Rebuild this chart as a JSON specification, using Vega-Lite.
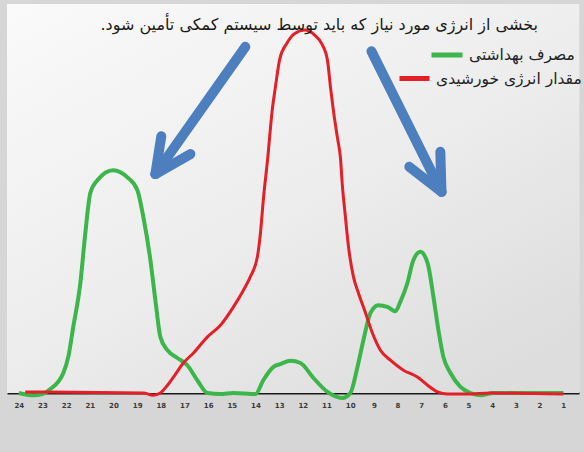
{
  "$schema": "https://vega.github.io/schema/vega-lite/v6.json",
  "width": 572,
  "height": 389,
  "autosize": {"type": "none"},
  "padding": {"left": 7, "top": 4, "right": 5, "bottom": 59},
  "background": "#d6d6d6",
  "title": {
    "text": "بخشی از انرژی مورد نیاز که باید توسط سیستم کمکی تأمین شود.‏",
    "orient": "top",
    "anchor": "end",
    "frame": "group",
    "offset": 0,
    "baseline": "alphabetic",
    "dx": -41,
    "dy": 42,
    "font": "DejaVu Sans",
    "fontSize": 16,
    "fontWeight": "normal",
    "color": "#1a1a1a"
  },
  "config": {
    "axisX": {"title": null, "ticks": false, "grid": false, "labelOverlap": false, "labelBound": false, "labelFlush": false, "domainColor": "#1a1a1a", "domainWidth": 2, "labelFont": "DejaVu Sans", "labelFontSize": 7, "labelFontWeight": "bold", "labelColor": "#3a3a3a", "labelPadding": 8},
    "axisY": {"title": null, "labels": false, "ticks": false, "domain": false, "grid": true, "gridColor": "#d2d2d2", "gridWidth": 1.5}
  },
  "datasets": {
    "curves": [
      {"series": "مصرف بهداشتی", "hour": 24.0, "value": 0},
      {"series": "مصرف بهداشتی", "hour": 23.4, "value": -0.04},
      {"series": "مصرف بهداشتی", "hour": 23.0, "value": -0.02},
      {"series": "مصرف بهداشتی", "hour": 22.67, "value": 0.07},
      {"series": "مصرف بهداشتی", "hour": 22.12, "value": 0.36},
      {"series": "مصرف بهداشتی", "hour": 21.91, "value": 0.65},
      {"series": "مصرف بهداشتی", "hour": 21.7, "value": 1.19},
      {"series": "مصرف بهداشتی", "hour": 21.4, "value": 1.98},
      {"series": "مصرف بهداشتی", "hour": 21.19, "value": 2.88},
      {"series": "مصرف بهداشتی", "hour": 20.98, "value": 3.6},
      {"series": "مصرف بهداشتی", "hour": 20.68, "value": 3.83},
      {"series": "مصرف بهداشتی", "hour": 20.01, "value": 4.01},
      {"series": "مصرف بهداشتی", "hour": 19.41, "value": 3.88},
      {"series": "مصرف بهداشتی", "hour": 18.99, "value": 3.65},
      {"series": "مصرف بهداشتی", "hour": 18.74, "value": 3.17},
      {"series": "مصرف بهداشتی", "hour": 18.44, "value": 2.39},
      {"series": "مصرف بهداشتی", "hour": 18.23, "value": 1.67},
      {"series": "مصرف بهداشتی", "hour": 18.02, "value": 1.01},
      {"series": "مصرف بهداشتی", "hour": 17.72, "value": 0.77},
      {"series": "مصرف بهداشتی", "hour": 17.3, "value": 0.63},
      {"series": "مصرف بهداشتی", "hour": 16.88, "value": 0.5},
      {"series": "مصرف بهداشتی", "hour": 16.46, "value": 0.23},
      {"series": "مصرف بهداشتی", "hour": 16.03, "value": 0},
      {"series": "مصرف بهداشتی", "hour": 15.48, "value": -0.02},
      {"series": "مصرف بهداشتی", "hour": 14.93, "value": 0},
      {"series": "مصرف بهداشتی", "hour": 14.0, "value": -0.02},
      {"series": "مصرف بهداشتی", "hour": 13.67, "value": 0.23},
      {"series": "مصرف بهداشتی", "hour": 13.24, "value": 0.47},
      {"series": "مصرف بهداشتی", "hour": 12.95, "value": 0.52},
      {"series": "مصرف بهداشتی", "hour": 12.52, "value": 0.58},
      {"series": "مصرف بهداشتی", "hour": 12.1, "value": 0.54},
      {"series": "مصرف بهداشتی", "hour": 11.55, "value": 0.27},
      {"series": "مصرف بهداشتی", "hour": 10.96, "value": 0.02},
      {"series": "مصرف بهداشتی", "hour": 10.33, "value": -0.09},
      {"series": "مصرف بهداشتی", "hour": 9.99, "value": 0},
      {"series": "مصرف بهداشتی", "hour": 9.69, "value": 0.47},
      {"series": "مصرف بهداشتی", "hour": 9.44, "value": 0.95},
      {"series": "مصرف بهداشتی", "hour": 9.14, "value": 1.44},
      {"series": "مصرف بهداشتی", "hour": 8.81, "value": 1.58},
      {"series": "مصرف بهداشتی", "hour": 8.43, "value": 1.55},
      {"series": "مصرف بهداشتی", "hour": 8.09, "value": 1.47},
      {"series": "مصرف بهداشتی", "hour": 7.88, "value": 1.64},
      {"series": "مصرف بهداشتی", "hour": 7.58, "value": 1.98},
      {"series": "مصرف بهداشتی", "hour": 7.33, "value": 2.39},
      {"series": "مصرف بهداشتی", "hour": 7.03, "value": 2.54},
      {"series": "مصرف بهداشتی", "hour": 6.73, "value": 2.34},
      {"series": "مصرف بهداشتی", "hour": 6.48, "value": 1.73},
      {"series": "مصرف بهداشتی", "hour": 6.27, "value": 1.13},
      {"series": "مصرف بهداشتی", "hour": 6.06, "value": 0.65},
      {"series": "مصرف بهداشتی", "hour": 5.76, "value": 0.36},
      {"series": "مصرف بهداشتی", "hour": 5.34, "value": 0.11},
      {"series": "مصرف بهداشتی", "hour": 4.92, "value": 0},
      {"series": "مصرف بهداشتی", "hour": 4.49, "value": -0.04},
      {"series": "مصرف بهداشتی", "hour": 3.94, "value": 0},
      {"series": "مصرف بهداشتی", "hour": 0.99, "value": 0},
      {"series": "مقدار انرژی خورشیدی", "hour": 23.73, "value": 0.02},
      {"series": "مقدار انرژی خورشیدی", "hour": 18.74, "value": 0},
      {"series": "مقدار انرژی خورشیدی", "hour": 18.32, "value": -0.04},
      {"series": "مقدار انرژی خورشیدی", "hour": 18.02, "value": 0},
      {"series": "مقدار انرژی خورشیدی", "hour": 17.72, "value": 0.14},
      {"series": "مقدار انرژی خورشیدی", "hour": 17.46, "value": 0.29},
      {"series": "مقدار انرژی خورشیدی", "hour": 17.05, "value": 0.54},
      {"series": "مقدار انرژی خورشیدی", "hour": 16.62, "value": 0.72},
      {"series": "مقدار انرژی خورشیدی", "hour": 16.03, "value": 1.01},
      {"series": "مقدار انرژی خورشیدی", "hour": 15.48, "value": 1.22},
      {"series": "مقدار انرژی خورشیدی", "hour": 14.93, "value": 1.55},
      {"series": "مقدار انرژی خورشیدی", "hour": 14.51, "value": 1.85},
      {"series": "مقدار انرژی خورشیدی", "hour": 14.22, "value": 2.09},
      {"series": "مقدار انرژی خورشیدی", "hour": 13.92, "value": 2.45},
      {"series": "مقدار انرژی خورشیدی", "hour": 13.79, "value": 2.88},
      {"series": "مقدار انرژی خورشیدی", "hour": 13.67, "value": 3.47},
      {"series": "مقدار انرژی خورشیدی", "hour": 13.48, "value": 4.24},
      {"series": "مقدار انرژی خورشیدی", "hour": 13.29, "value": 5.1},
      {"series": "مقدار انرژی خورشیدی", "hour": 13.16, "value": 5.5},
      {"series": "مقدار انرژی خورشیدی", "hour": 12.98, "value": 6.0},
      {"series": "مقدار انرژی خورشیدی", "hour": 12.68, "value": 6.29},
      {"series": "مقدار انرژی خورشیدی", "hour": 12.34, "value": 6.47},
      {"series": "مقدار انرژی خورشیدی", "hour": 11.92, "value": 6.53},
      {"series": "مقدار انرژی خورشیدی", "hour": 11.5, "value": 6.44},
      {"series": "مقدار انرژی خورشیدی", "hour": 11.21, "value": 6.29},
      {"series": "مقدار انرژی خورشیدی", "hour": 10.96, "value": 5.99},
      {"series": "مقدار انرژی خورشیدی", "hour": 10.83, "value": 5.5},
      {"series": "مقدار انرژی خورشیدی", "hour": 10.71, "value": 5.09},
      {"series": "مقدار انرژی خورشیدی", "hour": 10.54, "value": 4.6},
      {"series": "مقدار انرژی خورشیدی", "hour": 10.41, "value": 4.23},
      {"series": "مقدار انرژی خورشیدی", "hour": 10.33, "value": 3.74},
      {"series": "مقدار انرژی خورشیدی", "hour": 10.2, "value": 3.17},
      {"series": "مقدار انرژی خورشیدی", "hour": 10.07, "value": 2.63},
      {"series": "مقدار انرژی خورشیدی", "hour": 9.86, "value": 2.09},
      {"series": "مقدار انرژی خورشیدی", "hour": 9.65, "value": 1.8},
      {"series": "مقدار انرژی خورشیدی", "hour": 9.35, "value": 1.44},
      {"series": "مقدار انرژی خورشیدی", "hour": 9.06, "value": 1.08},
      {"series": "مقدار انرژی خورشیدی", "hour": 8.72, "value": 0.77},
      {"series": "مقدار انرژی خورشیدی", "hour": 8.3, "value": 0.59},
      {"series": "مقدار انرژی خورشیدی", "hour": 7.75, "value": 0.41},
      {"series": "مقدار انرژی خورشیدی", "hour": 7.16, "value": 0.29},
      {"series": "مقدار انرژی خورشیدی", "hour": 6.73, "value": 0.14},
      {"series": "مقدار انرژی خورشیدی", "hour": 6.31, "value": 0.02},
      {"series": "مقدار انرژی خورشیدی", "hour": 5.89, "value": -0.02},
      {"series": "مقدار انرژی خورشیدی", "hour": 5.04, "value": -0.02},
      {"series": "مقدار انرژی خورشیدی", "hour": 4.07, "value": 0},
      {"series": "مقدار انرژی خورشیدی", "hour": 0.99, "value": -0.02}
    ],
    "arrows": [
      {"part": "shaft1", "x": 14.43, "y": 6.23, "x2": 18.23, "y2": 3.94},
      {"part": "barb1a", "x": 17.98, "y": 4.62, "x2": 18.23, "y2": 3.94},
      {"part": "barb1b", "x": 16.75, "y": 4.3, "x2": 18.23, "y2": 3.94},
      {"part": "shaft2", "x": 9.1, "y": 6.15, "x2": 6.14, "y2": 3.62},
      {"part": "barb2a", "x": 6.19, "y": 4.34, "x2": 6.14, "y2": 3.62},
      {"part": "barb2b", "x": 7.5, "y": 4.07, "x2": 6.14, "y2": 3.62}
    ]
  },
  "layer": [
    {
      "data": {"values": [{}]},
      "mark": {
        "type": "rect",
        "color": {
          "gradient": "linear",
          "x1": 0, "y1": 0, "x2": 0.8, "y2": 1,
          "stops": [
            {"offset": 0, "color": "#fafafa"},
            {"offset": 0.55, "color": "#ededed"},
            {"offset": 1, "color": "#dddddd"}
          ]
        }
      },
      "encoding": {}
    },
    {
      "data": {"name": "curves"},
      "transform": [{"filter": "datum.series === 'مصرف بهداشتی'"}],
      "mark": {"type": "line", "interpolate": "monotone", "strokeWidth": 4},
      "encoding": {
        "x": {
          "field": "hour", "type": "quantitative",
          "scale": {"domain": [0.33, 24.5], "reverse": true, "nice": false, "zero": false},
          "axis": {"values": [1,2,3,4,5,6,7,8,9,10,11,12,13,14,15,16,17,18,19,20,21,22,23,24], "format": "d"}
        },
        "y": {
          "field": "value", "type": "quantitative",
          "scale": {"domain": [0, 7], "nice": false, "zero": false},
          "axis": {"values": [1,2,3,4,5,6]}
        },
        "order": {"field": "hour", "sort": "descending"},
        "color": {
          "field": "series", "type": "nominal",
          "scale": {"range": ["#3cb54b"]},
          "legend": {"orient": "none", "legendX": 422, "legendY": 33, "title": null, "padding": 0, "symbolType": "stroke", "symbolSize": 961, "symbolStrokeWidth": 5, "labelFont": "DejaVu Sans", "labelFontSize": 15.5, "labelColor": "#222222", "labelOffset": 4, "labelLimit": 300}
        }
      }
    },
    {
      "data": {"name": "curves"},
      "transform": [{"filter": "datum.series === 'مقدار انرژی خورشیدی'"}],
      "mark": {"type": "line", "interpolate": "monotone", "strokeWidth": 3},
      "encoding": {
        "x": {
          "field": "hour", "type": "quantitative",
          "scale": {"domain": [0.33, 24.5], "reverse": true, "nice": false, "zero": false},
          "axis": {"values": [1,2,3,4,5,6,7,8,9,10,11,12,13,14,15,16,17,18,19,20,21,22,23,24], "format": "d"}
        },
        "y": {
          "field": "value", "type": "quantitative",
          "scale": {"domain": [0, 7], "nice": false, "zero": false},
          "axis": {"values": [1,2,3,4,5,6]}
        },
        "order": {"field": "hour", "sort": "descending"},
        "color": {
          "field": "series", "type": "nominal",
          "scale": {"range": ["#e31f27"]},
          "legend": {"orient": "none", "legendX": 390, "legendY": 57, "title": null, "padding": 0, "symbolType": "stroke", "symbolSize": 900, "symbolStrokeWidth": 5, "labelFont": "DejaVu Sans", "labelFontSize": 15.5, "labelColor": "#222222", "labelOffset": 4, "labelLimit": 300}
        }
      }
    },
    {
      "data": {"name": "arrows"},
      "mark": {"type": "rule", "color": "#4d7fbf", "strokeWidth": 10, "strokeCap": "round"},
      "encoding": {
        "x": {
          "field": "x", "type": "quantitative",
          "axis": {"values": [1,2,3,4,5,6,7,8,9,10,11,12,13,14,15,16,17,18,19,20,21,22,23,24], "format": "d"}
        },
        "y": {
          "field": "y", "type": "quantitative",
          "axis": {"values": [1,2,3,4,5,6]}
        },
        "x2": {"field": "x2"},
        "y2": {"field": "y2"}
      }
    }
  ],
  "resolve": {"scale": {"color": "independent"}}
}
